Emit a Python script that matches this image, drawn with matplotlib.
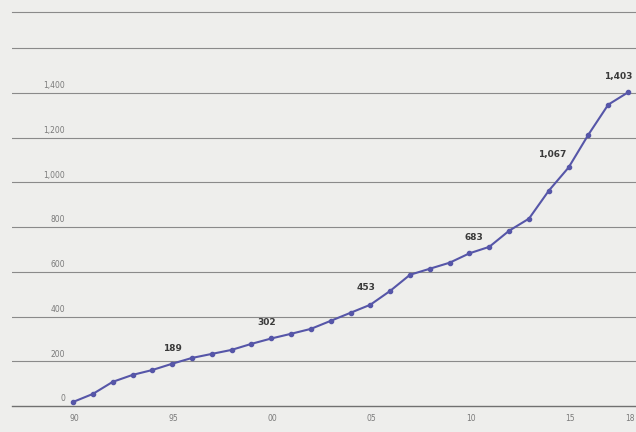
import numpy as np
import matplotlib.pyplot as plt
from matplotlib.lines import Line2D

# annual values, 1990-2018
years = np.arange(1990, 2019)
values = [18, 54, 108, 139, 161, 189, 215, 233, 251, 278,
          302, 323, 345, 381, 417, 453, 515, 587, 614, 641,
          683, 712, 784, 838, 963, 1067, 1214, 1348, 1403]

# years that get a value label, with label offsets in points
labelled = {1995: (0, 8), 2000: (-3, 8), 2005: (-3, 9),
            2010: (3, 8), 2015: (-12, 6), 2018: (-7, 8)}

ytick_vals = [0, 200, 400, 600, 800, 1000, 1200, 1400]
xtick_years = [1990, 1995, 2000, 2005, 2010, 2015, 2018]
xtick_labels = ["90", "95", "00", "05", "10", "15", "18"]

W, H = 636, 432
fig = plt.figure(figsize=(W / 100, H / 100), dpi=100)
fig.patch.set_facecolor("#eeeeec")

ax = fig.add_axes([12 / W, 26 / H, 1 - 12 / W, 1 - 26 / H])
ax.set_facecolor("#eeeeec")
ax.set_xlim(1986.92, 2018.4)
ax.set_ylim(0, 1816)

for v in ytick_vals[1:] + [1600]:
    ax.axhline(v, color="#8a8a8a", lw=0.8, zorder=1)
ax.axhline(0, color="#707070", lw=1.0, zorder=1, clip_on=False)

# top rule above the plot area
fig.add_artist(Line2D([12 / W, 1], [1 - 12 / H, 1 - 12 / H],
                      color="#8a8a8a", lw=0.8))

for s in ax.spines.values():
    s.set_visible(False)
ax.set_xticks([])
ax.set_yticks([])

# y tick labels sit above their grid lines
for v in ytick_vals:
    ax.annotate(f"{v:,}", (1989.6, v), xytext=(0, 2), textcoords="offset points",
                ha="right", va="bottom", fontsize=5.5, color="#7a7a7a")

for yr, lab in zip(xtick_years, xtick_labels):
    ax.annotate(lab, (yr, 0), xytext=(1, -6), textcoords="offset points",
                ha="center", va="top", fontsize=5.5, color="#7a7a7a",
                annotation_clip=False)

ax.plot(years, values, color="#5656a8", lw=1.5, marker="o", ms=3,
        mfc="#5656a8", mec="#5656a8", zorder=3)

for yr, off in labelled.items():
    v = values[list(years).index(yr)]
    ax.annotate(f"{v:,}", (yr, v), xytext=off, textcoords="offset points",
                ha="center", va="bottom", fontsize=6.5, fontweight="bold",
                color="#3a3a3a", zorder=4)

fig.savefig("out.png", dpi=100, facecolor=fig.get_facecolor())
